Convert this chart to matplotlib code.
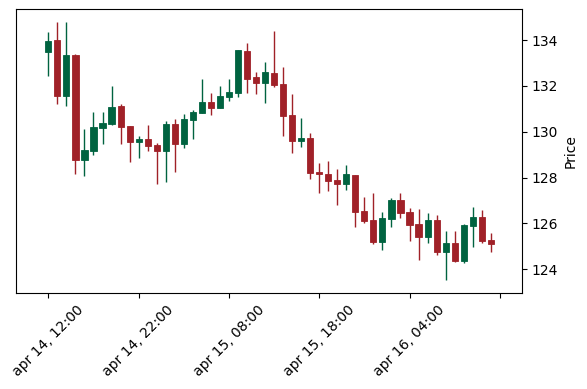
import matplotlib
matplotlib.use("Agg")
import matplotlib.pyplot as plt
import numpy as np

opens = [133.49, 134.01, 131.57, 133.35, 128.77, 129.16, 130.18, 130.34, 131.12, 130.25,
         129.57, 129.68, 129.42, 129.17, 130.34, 129.46, 130.51, 130.83, 131.31, 131.05,
         131.53, 131.70, 133.52, 132.37, 132.14, 132.56, 132.08, 130.74, 129.61, 129.73,
         128.26, 128.16, 127.89, 127.73, 128.11, 126.54, 126.15, 125.20, 126.21, 127.02,
         126.50, 125.98, 125.42, 126.15, 124.75, 125.16, 124.36, 125.89, 126.27, 125.28]
highs = [134.34, 134.77, 134.77, 133.40, 130.11, 130.85, 130.85, 131.99, 131.21, 130.25,
         129.81, 130.28, 129.49, 130.48, 130.54, 130.77, 130.95, 132.29, 131.68, 131.99,
         132.29, 133.56, 133.88, 132.62, 133.05, 134.41, 132.81, 131.64, 130.59, 129.96,
         128.62, 128.71, 128.36, 128.56, 128.11, 127.17, 127.34, 126.51, 127.10, 127.31,
         126.69, 126.62, 126.44, 126.37, 125.69, 125.69, 125.98, 126.73, 126.59, 125.57]
lows = [132.43, 131.20, 131.13, 128.14, 128.08, 128.98, 129.45, 130.29, 129.45, 128.67,
        128.84, 129.17, 127.71, 127.82, 128.26, 129.28, 129.67, 130.83, 130.72, 131.05,
        131.34, 131.50, 131.68, 131.64, 131.24, 131.94, 129.83, 129.06, 129.32, 127.93,
        127.31, 127.41, 126.79, 127.46, 125.83, 126.03, 125.10, 124.84, 125.83, 126.22,
        125.23, 124.41, 125.13, 124.61, 123.53, 124.33, 124.29, 124.96, 125.16, 124.76]
closes = [133.96, 131.57, 133.35, 128.77, 129.20, 130.21, 130.38, 131.08, 130.22, 129.57,
          129.68, 129.39, 129.17, 130.34, 129.46, 130.57, 130.87, 131.31, 131.05, 131.56,
          131.73, 133.56, 132.31, 132.14, 132.60, 132.05, 130.69, 129.61, 129.73, 128.21,
          128.17, 127.86, 127.73, 128.16, 126.51, 126.12, 125.20, 126.24, 127.02, 126.44,
          125.95, 125.42, 126.15, 124.75, 125.16, 124.36, 125.95, 126.27, 125.22, 125.10]

tick_positions = [0, 10, 20, 30, 40, 50]
tick_labels = ["apr 14, 12:00", "apr 14, 22:00", "apr 15, 08:00",
               "apr 15, 18:00", "apr 16, 04:00", ""]
y_ticks = [124, 126, 128, 130, 132, 134]

UP = "#006340"
DOWN = "#A02128"

fig = plt.figure(figsize=(5.87, 3.89), dpi=100)
ax = fig.add_axes([0.0273, 0.247, 0.8620, 0.729])

x = np.arange(len(opens))
o = np.array(opens); h = np.array(highs); l = np.array(lows); c = np.array(closes)
colors = [UP if cc >= oo else DOWN for oo, cc in zip(o, c)]

ax.vlines(x, l, h, colors=colors, linewidth=1.0, zorder=2)
bottoms = np.minimum(o, c)
heights = np.abs(c - o)
ax.bar(x, heights, bottom=bottoms, width=0.68, color=colors,
       edgecolor=colors, linewidth=0.6, zorder=3)

ax.set_xlim(-3.58, 52.46)
ax.set_ylim(122.97, 135.34)
ax.set_xticks(tick_positions)
ax.set_xticklabels(tick_labels, rotation=45, ha="center", fontsize=10)
ax.yaxis.tick_right()
ax.yaxis.set_label_position("right")
ax.set_yticks(y_ticks)
ax.tick_params(axis="y", labelsize=10)
ax.set_ylabel("Price", fontsize=10)

fig.savefig("out.png", dpi=100)
